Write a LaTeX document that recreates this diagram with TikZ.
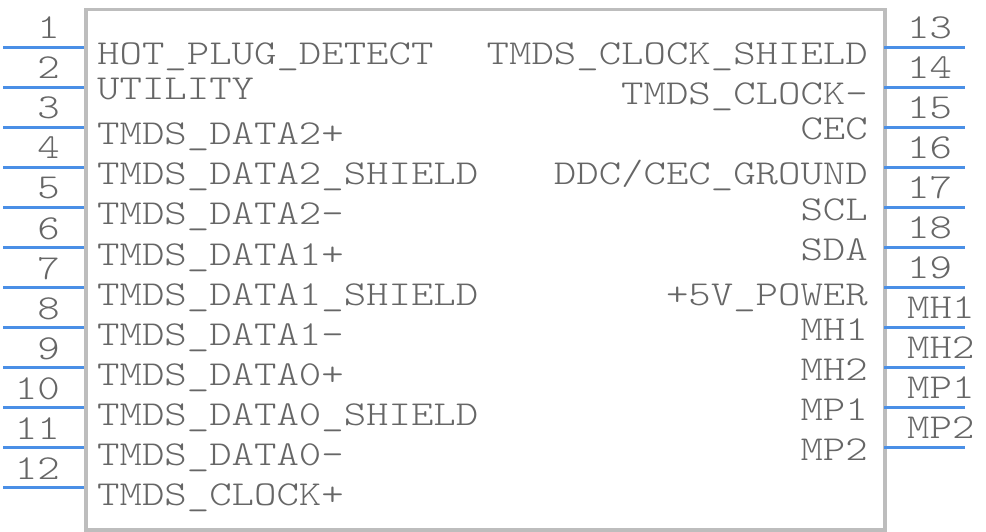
\documentclass[tikz,border=0pt]{standalone}
\usepackage{fontspec}
\newfontfamily\pinfont{lmmonolt10-regular.otf}[FakeStretch=1.22]
\definecolor{pinblue}{HTML}{4A8FE6}
\definecolor{txtgray}{HTML}{666666}
\definecolor{boxgray}{HTML}{BDBDBD}
\begin{document}
\begin{tikzpicture}[x=1pt,y=-1pt,
  lbl/.style={inner sep=0pt,text=txtgray,font=\pinfont\fontsize{35}{40}\selectfont},
  pinline/.style={draw=pinblue,line width=3pt},
  boxline/.style={draw=boxgray,line width=3.5pt}]
\useasboundingbox (0,0) rectangle (986,532);
\node[boxline,minimum width=799pt,minimum height=520pt,inner sep=0pt,anchor=north west] (body) at (84,8) {};
% left pins
\foreach \i in {1,...,12}{
  \coordinate (L\i a) at (3,{47.5+40*(\i-1)});
  \coordinate (L\i b) at (84,{47.5+40*(\i-1)});
  \draw[pinline] (L\i a) -- (L\i b);
  \node[lbl,anchor=base east] (Ln\i) at (60,{39+40*(\i-1)}) {\i};
}
\node[lbl,anchor=base west] (Lt1) at (97,65) {HOT\_PLUG\_DETECT};
\node[lbl,anchor=base west] (Lt2) at (97,100) {UTILITY};
\node[lbl,anchor=base west] (Lt3) at (97,145) {TMDS\_DATA2+};
\node[lbl,anchor=base west] (Lt4) at (97,185) {TMDS\_DATA2\_SHIELD};
\node[lbl,anchor=base west] (Lt5) at (97,225) {TMDS\_DATA2-};
\node[lbl,anchor=base west] (Lt6) at (97,265) {TMDS\_DATA1+};
\node[lbl,anchor=base west] (Lt7) at (97,305) {TMDS\_DATA1\_SHIELD};
\node[lbl,anchor=base west] (Lt8) at (97,345) {TMDS\_DATA1-};
\node[lbl,anchor=base west] (Lt9) at (97,385) {TMDS\_DATA0+};
\node[lbl,anchor=base west] (Lt10) at (97,425) {TMDS\_DATA0\_SHIELD};
\node[lbl,anchor=base west] (Lt11) at (97,465) {TMDS\_DATA0-};
\node[lbl,anchor=base west] (Lt12) at (97,505) {TMDS\_CLOCK+};
% right pins
\foreach \i/\n in {1/13,2/14,3/15,4/16,5/17,6/18,7/19,8/MH1,9/MH2,10/MP1,11/MP2}{
  \coordinate (R\i a) at (884,{47.5+40*(\i-1)});
  \coordinate (R\i b) at (965,{47.5+40*(\i-1)});
  \draw[pinline] (R\i a) -- (R\i b);
  \node[lbl,anchor=base west] (Rn\i) at (907,{38.5+40*(\i-1)}) {\n};
}
\node[lbl,anchor=base east] (Rt1) at (868,65) {TMDS\_CLOCK\_SHIELD};
\node[lbl,anchor=base east] (Rt2) at (868,105) {TMDS\_CLOCK-};
\node[lbl,anchor=base east] (Rt3) at (868,140) {CEC};
\node[lbl,anchor=base east] (Rt4) at (868,185) {DDC/CEC\_GROUND};
\node[lbl,anchor=base east] (Rt5) at (868,220) {SCL};
\node[lbl,anchor=base east] (Rt6) at (868,260) {SDA};
\node[lbl,anchor=base east] (Rt7) at (868,305) {+5V\_POWER};
\node[lbl,anchor=base east] (Rt8) at (868,340) {MH1};
\node[lbl,anchor=base east] (Rt9) at (868,380) {MH2};
\node[lbl,anchor=base east] (Rt10) at (868,420) {MP1};
\node[lbl,anchor=base east] (Rt11) at (868,460) {MP2};
\end{tikzpicture}
\end{document}
